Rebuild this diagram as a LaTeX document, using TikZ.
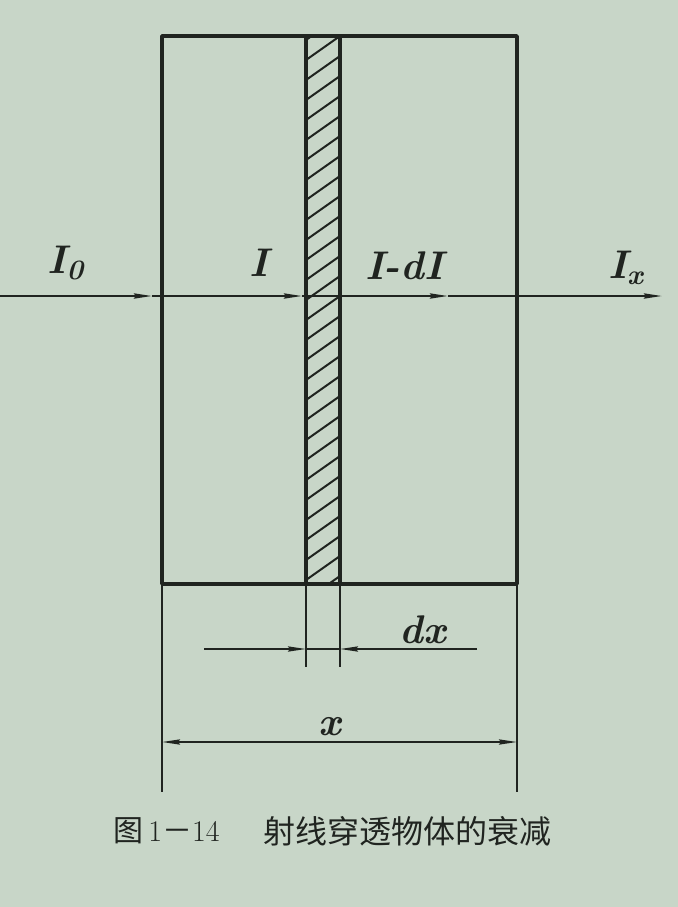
\documentclass[tikz,border=0pt]{standalone}
\usepackage{fontspec}
\newfontfamily\cjk{Noto Sans CJK SC}
\usepackage[x11names, svgnames, rgb]{xcolor}
\usetikzlibrary{arrows, arrows.meta, calc, positioning, backgrounds}
\definecolor{paper}{RGB}{200,214,200}
\definecolor{ink}{RGB}{32,36,32}

\begin{document}
\begin{tikzpicture}[x=0.5pt,y=-0.5pt,>={Stealth[length=9pt,width=2.6pt,inset=1pt]},line join=bevel,
    lab/.style={font=\fontsize{20}{20}\selectfont\bfseries\itshape, text=ink, inner sep=1pt},
    wall/.style={draw=ink, line width=1.8pt},
    beam/.style={draw=ink, line width=1.1pt, ->},
    dim/.style={draw=ink, line width=0.9pt}]
  \fill[paper] (0,0) rectangle (678,907);
  \useasboundingbox (0,0) rectangle (678,907);
  % body and slab
  \coordinate (bodyNW) at (162,36);  \coordinate (bodySE) at (517,584);
  \coordinate (bodySW) at (162,584);
  \coordinate (slabNW) at (306,36);  \coordinate (slabSE) at (340,584);
  \coordinate (slabSW) at (306,584);
  \begin{scope}
    \clip (slabNW) rectangle (slabSE);
    \foreach \y in {-20,0,...,600}
      \draw[ink, line width=1pt] (306,60+\y) -- ++(34,-24);
  \end{scope}
  \draw[wall] (bodyNW) rectangle (bodySE);
  \draw[wall] (slabNW) rectangle (slabSE);
  % beam
  \coordinate (b0) at (0,296);   \coordinate (b1) at (152,296);
  \coordinate (b2) at (302,296); \coordinate (b3) at (448,296);
  \coordinate (b4) at (662,296);
  \draw[beam] (b0) -- (b1);
  \draw[beam] (b1) -- (b2);
  \draw[beam] (b2) -- (b3);
  \draw[beam] (b3) -- (b4);
  \node[lab] (I0) at (66,263) {I\textsubscript{0}};
  \node[lab] (I)  at (259,263) {I};
  \node[lab] (IdI) at (404,266) {I-dI};
  \node[lab] (Ix) at (626,268) {I\textsubscript{x}};
  % dimensions
  \coordinate (eL) at (162,792); \coordinate (eR) at (517,792);
  \coordinate (sL) at (306,667); \coordinate (sR) at (340,667);
  \draw[dim] (bodySW) -- (eL);
  \draw[dim] (bodySE) -- (eR);
  \draw[dim] (slabSW) -- (sL);
  \draw[dim] (slabSE) -- (sR);
  \coordinate (dxL) at (204,649); \coordinate (dxR) at (477,649);
  \draw[dim,->] (dxL) -- (dxL -| sL);
  \draw[dim,->] (dxR) -- (dxR -| sR);
  \draw[dim] (dxL -| sL) -- (dxR -| sR);
  \node[lab] (dx) at (423,630) {dx};
  \coordinate (xL) at (162,742); \coordinate (xR) at (517,742);
  \draw[dim,<->] (xL) -- (xR);
  \node[lab] (x) at (330,727) {x};
  % caption
  \node[anchor=west, inner sep=0pt, text=ink, font=\fontsize{15}{15}\selectfont] (fignum) at (113,831)
    {{\cjk 图}\,1{\cjk －}14};
  \node[anchor=west, inner sep=0pt, text=ink, font=\fontsize{16}{16}\selectfont] (figtitle) at (263,831)
    {\cjk 射线穿透物体的衰减};
\end{tikzpicture}
\end{document}
